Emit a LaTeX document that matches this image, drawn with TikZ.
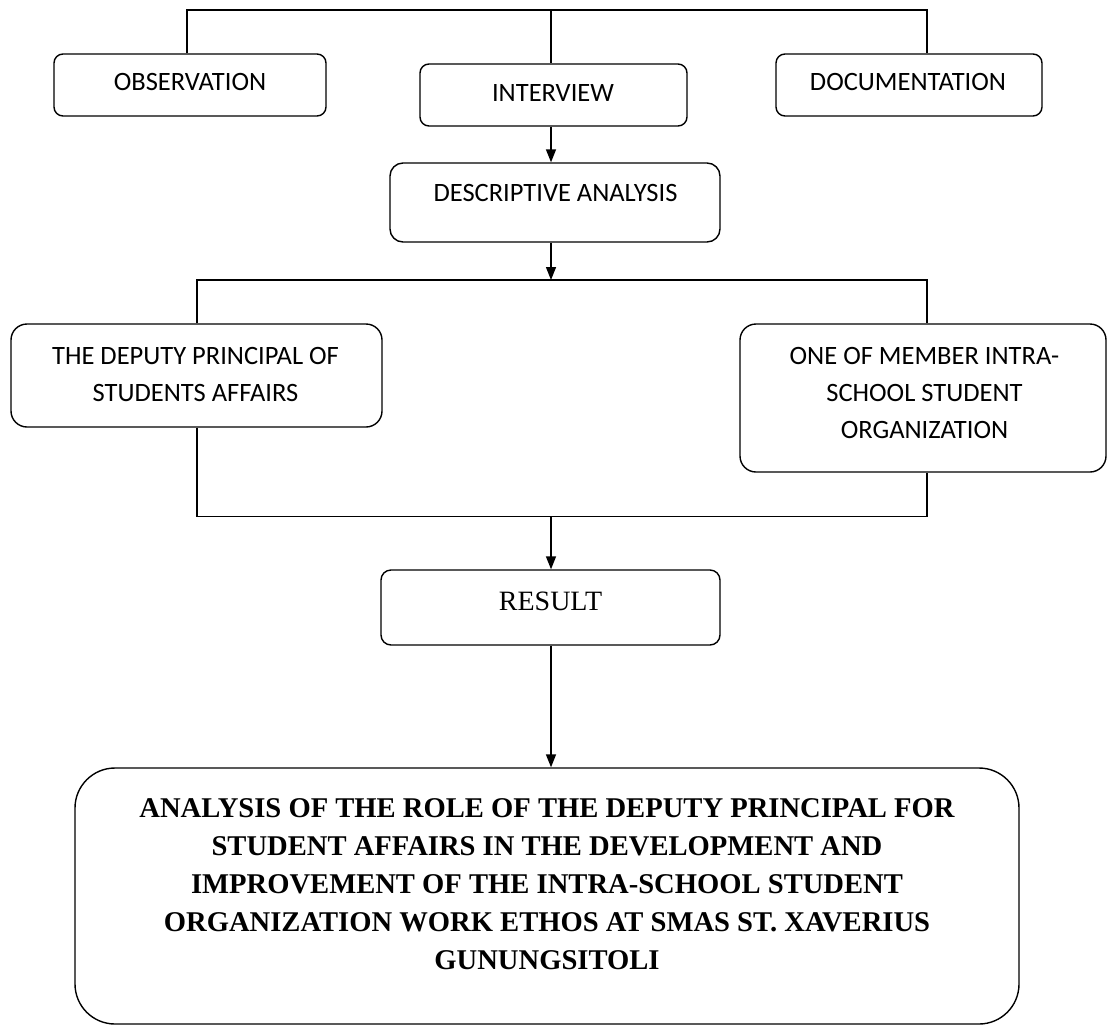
\documentclass[tikz,border=0pt]{standalone}
\usepackage{fontspec}
\setmainfont{Liberation Serif}
\newfontfamily\carlito{Carlito}
\usetikzlibrary{arrows.meta,positioning}

\begin{document}
\begin{tikzpicture}[
  x=1pt, y=-1pt,
  >={Triangle[length=13pt,width=10pt]},
  line width=1.4pt,
  box/.style={draw, rounded corners=#1, inner sep=0pt},
  box/.default=9pt,
  lbl/.style={font=\carlito\fontsize{26.5}{37}\selectfont, align=center, anchor=base, inner sep=0pt},
  res/.style={font=\fontsize{28}{34}\selectfont, anchor=base, inner sep=0pt},
  fin/.style={font=\bfseries\fontsize{28.6}{38}\selectfont, align=center, anchor=base, inner sep=0pt}
]
\useasboundingbox (0,0) rectangle (1108,1026);

% boxes
\node[box, minimum width=272pt, minimum height=62pt] (obs) at (190,85) {};
\node[box, minimum width=267pt, minimum height=62pt] (intv) at (553.5,95) {};
\node[box, minimum width=266pt, minimum height=62pt] (doc) at (909,85) {};
\node[box=13pt, minimum width=330pt, minimum height=79pt] (desc) at (555,202.5) {};
\node[box=16pt, minimum width=371pt, minimum height=103pt] (dep) at (196.5,375.5) {};
\node[box=16pt, minimum width=366pt, minimum height=148pt] (one) at (923,398) {};
\node[box=10pt, minimum width=339pt, minimum height=75pt] (result) at (550.5,607.5) {};
\node[box=40pt, minimum width=944pt, minimum height=256pt] (final) at (547,896) {};

% texts (multi-line ones sit on their last baseline)
\node[lbl] (obs-t) at (190,90.7) {OBSERVATION};
\node[lbl] (intv-t) at (553,101) {INTERVIEW};
\node[lbl] (doc-t) at (908,90.7) {DOCUMENTATION};
\node[lbl] (desc-t) at (555.5,201) {DESCRIPTIVE ANALYSIS};
\node[lbl] (dep-t) at (195.5,401) {THE DEPUTY PRINCIPAL OF\\STUDENTS AFFAIRS};
\node[lbl] (one-t) at (924.5,438) {ONE OF MEMBER INTRA-\\SCHOOL STUDENT\\ORGANIZATION};
\node[res] (result-t) at (550.5,610) {RESULT};
\node[fin] (final-t) at (547,969) {ANALYSIS OF THE ROLE OF THE DEPUTY PRINCIPAL FOR\\
  STUDENT AFFAIRS IN THE DEVELOPMENT AND\\
  IMPROVEMENT OF THE INTRA-SCHOOL STUDENT\\
  ORGANIZATION WORK ETHOS AT SMAS ST. XAVERIUS\\
  GUNUNGSITOLI};

% connectors
\coordinate (top-l) at (187,10);
\coordinate (top-r) at (927,10);
\coordinate (spine) at (551,10);
\coordinate (mid-l) at (197,280);
\coordinate (mid-r) at (927,280);
\coordinate (bot-l) at (197,516.5);
\coordinate (bot-r) at (927,516.5);

\draw (obs.north -| top-l) -- (top-l) -- (top-r) -- (doc.north -| top-r);
\draw (spine) -- (intv.north -| spine);
\draw[->] (intv.south -| spine) -- (desc.north -| spine);
\draw[->] (desc.south -| spine) -- (mid-l -| spine);
\draw (dep.north -| mid-l) -- (mid-l) -- (mid-r) -- (one.north -| mid-r);
\draw (dep.south -| bot-l) -- (bot-l) -- (bot-r) -- (one.south -| bot-r);
\draw[->] (bot-l -| spine) -- (result.north -| spine);
\draw[->] (result.south -| spine) -- (final.north -| spine);
\end{tikzpicture}
\end{document}
